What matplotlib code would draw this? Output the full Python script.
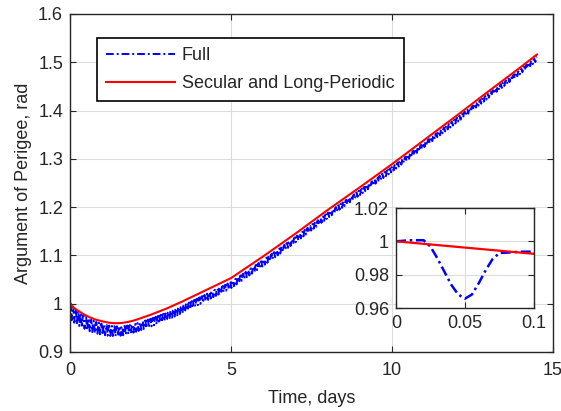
import numpy as np
import matplotlib
matplotlib.use('Agg')
import matplotlib.pyplot as plt

plt.rcParams['font.family'] = ['Liberation Sans', 'DejaVu Sans']
plt.rcParams['font.size'] = 13

# secular + long-periodic curve
red_t = [0, 0.1, 0.2, 0.4, 0.6, 0.8, 1.0, 1.2, 1.4, 1.6, 1.8, 2.0, 2.2, 2.5, 3.0,
         3.5, 4.0, 4.5, 5.0, 6.0, 7.0, 8.0, 9.0, 10.0, 11.0, 12.0, 13.0, 14.0, 14.5]
red_v = [1.0, 0.9925, 0.9875, 0.979, 0.972, 0.967, 0.9635, 0.9607, 0.9595, 0.9600,
         0.9622, 0.9655, 0.970, 0.977, 0.990, 1.005, 1.021, 1.037, 1.053, 1.098,
         1.145, 1.194, 1.241, 1.289, 1.339, 1.389, 1.440, 1.490, 1.516]

# one short-period cycle of the full solution relative to the secular curve (from inset)
period = 0.08
prof_t = [0, 0.01, 0.02, 0.025, 0.03, 0.035, 0.04, 0.045, 0.05, 0.055, 0.06,
          0.065, 0.07, 0.075, 0.08]
prof_dev = [0, 0.0015, 0.0024, -0.0011, -0.0078, -0.0154, -0.023, -0.0286,
            -0.0308, -0.0279, -0.0205, -0.0121, -0.0048, -0.0006, -0.0002]

# band of the full solution in the main plot: top offset and dip depth
env_t = [0, 0.5, 1.0, 2.0, 3.5, 5.0, 8.0, 11.0, 14.5]
shift = [0, -0.005, -0.007, -0.009, -0.010, -0.009, -0.007, -0.006, -0.005]
depth = [0.0308, 0.024, 0.021, 0.016, 0.014, 0.012, 0.010, 0.009, 0.008]

t = np.arange(0, 14.5 + 1e-9, 0.005)
dev = np.interp(t % period, prof_t, prof_dev)
full = (np.interp(t, red_t, red_v) + np.interp(t, env_t, shift)
        + dev * np.interp(t, env_t, depth) / 0.0308)

txt = '#262626'
dashdot = (0, (4, 1.5, 1, 1.5))

fig = plt.figure(figsize=(5.61, 4.11), dpi=100)
ax = fig.add_axes([0.1248, 0.1436, 0.8609, 0.8224])
ax.plot(t, full, color='blue', lw=1.4, linestyle=dashdot, label='Full')
ax.plot(red_t, red_v, color='red', lw=1.5, label='Secular and Long-Periodic')
ax.set_xlim(0, 15)
ax.set_ylim(0.9, 1.6)
ax.set_xticks([0, 5, 10, 15])
ax.set_yticks([0.9, 1.0, 1.1, 1.2, 1.3, 1.4, 1.5, 1.6])
ax.set_yticklabels(['0.9', '1', '1.1', '1.2', '1.3', '1.4', '1.5', '1.6'])
ax.grid(True, color='#dcdcdc', lw=0.8)
ax.set_axisbelow(True)
ax.tick_params(direction='in', top=True, right=True, length=4, colors=txt,
               labelsize=13)
ax.tick_params(axis='x', pad=7)
ax.tick_params(axis='y', pad=5)
for s in ax.spines.values():
    s.set_color(txt)
    s.set_linewidth(1.0)
ax.set_xlabel('Time, days', color=txt, fontsize=13, labelpad=8)
ax.set_ylabel('Argument of Perigee, rad', color=txt, fontsize=13, labelpad=4)

leg = ax.legend(loc='upper left', bbox_to_anchor=(0.056, 0.929), fontsize=13,
                handlelength=3.8, handletextpad=0.4, labelspacing=0.6,
                borderpad=0.5, fancybox=False, framealpha=1, borderaxespad=0)
leg.get_frame().set_edgecolor('black')
leg.get_frame().set_linewidth(1.2)
for txtobj in leg.get_texts():
    txtobj.set_color(txt)

# inset
ins = fig.add_axes([0.7059, 0.2506, 0.246, 0.2433])
ins.plot(t, full, color='blue', lw=1.8, linestyle=dashdot)
ins.plot(red_t, red_v, color='red', lw=1.6)
ins.set_xlim(0, 0.1)
ins.set_ylim(0.96, 1.02)
ins.set_xticks([0, 0.05, 0.1])
ins.set_xticklabels(['0', '0.05', '0.1'])
ins.set_yticks([0.96, 0.98, 1.0, 1.02])
ins.set_yticklabels(['0.96', '0.98', '1', '1.02'])
ins.grid(True, color='#dcdcdc', lw=0.8)
ins.set_axisbelow(True)
ins.tick_params(direction='in', top=True, right=True, length=4, colors=txt,
                labelsize=13, pad=5)
for s in ins.spines.values():
    s.set_color(txt)
    s.set_linewidth(1.0)

fig.savefig('out.png', dpi=100)
